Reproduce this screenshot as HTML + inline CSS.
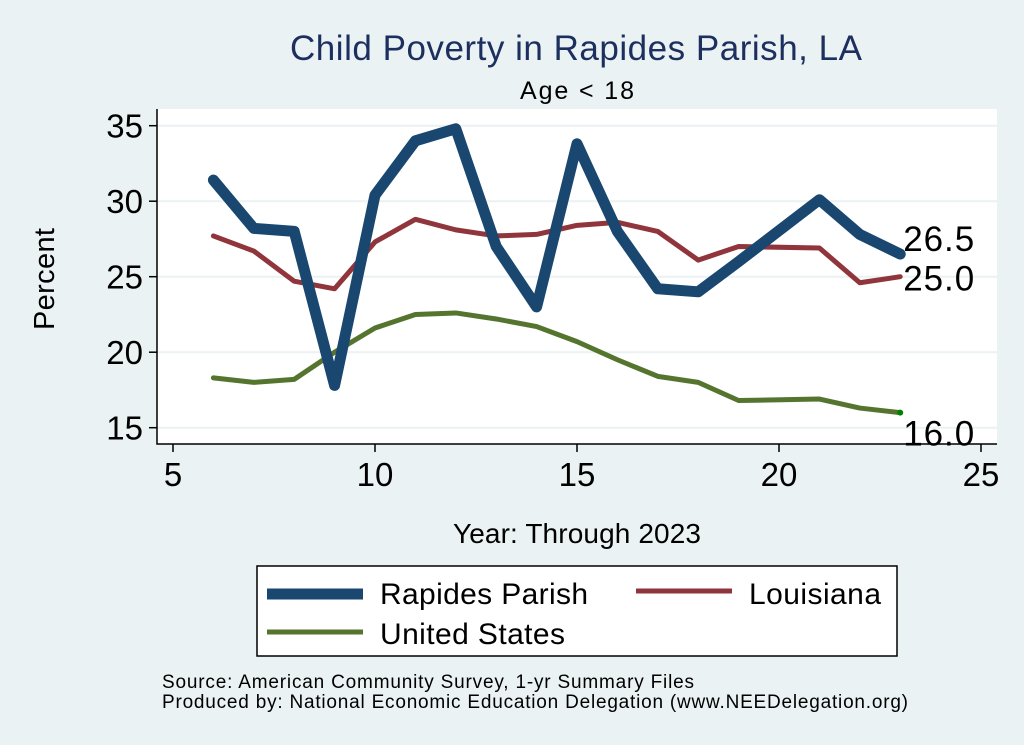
<!DOCTYPE html>
<html><head><meta charset="utf-8"><style>
body{margin:0;background:#eaf2f3;}
svg{display:block;font-family:"Liberation Sans",sans-serif;}
</style></head><body>
<svg id="chart" width="1024" height="745">
<rect x="0" y="0" width="1024" height="745" fill="#eaf2f3"/>
<rect x="157" y="109" width="840" height="335" fill="#fff"/>
<text x="576" y="60" font-size="35" fill="#1c2f5e" text-anchor="middle" textLength="572">Child Poverty in Rapides Parish, LA</text>
<text x="577" y="99" font-size="25" text-anchor="middle" textLength="114">Age &lt; 18</text>
<text transform="translate(54,279) rotate(-90)" font-size="29" text-anchor="middle" textLength="102">Percent</text>
<text x="577" y="543" font-size="28" text-anchor="middle" textLength="248">Year: Through 2023</text>
<g id="grid"></g><g id="axes"></g><g id="series"></g><g id="labels"></g>
<rect x="257" y="566" width="640" height="90" fill="#fff" stroke="#000" stroke-width="1.5"/>
<g><line x1="267" y1="594" x2="363" y2="594" stroke="#1a476f" stroke-width="11"/><text x="380" y="604" font-size="30" textLength="208">Rapides Parish</text></g>
<g><line x1="636" y1="591" x2="732" y2="591" stroke="#90353b" stroke-width="5"/><text x="749" y="604" font-size="30" textLength="132">Louisiana</text></g>
<g><line x1="267" y1="632" x2="363" y2="632" stroke="#55752f" stroke-width="5"/><text x="380" y="644" font-size="30" textLength="185">United States</text></g>
<text x="162" y="688" font-size="19" textLength="532">Source: American Community Survey, 1-yr Summary Files</text>
<text x="162" y="708" font-size="19" textLength="746">Produced by: National Economic Education Delegation (www.NEEDelegation.org)</text>
</svg>
<script>
const years=[6,7,8,9,10,11,12,13,14,15,16,17,18,19,20,21,22,23];
const rapides=[31.4,28.2,28.0,17.8,30.4,34.0,34.8,27.0,23.0,33.8,28.0,24.2,24.0,26.0,null,30.1,27.8,26.5];
const louisiana=[27.7,26.7,24.7,24.2,27.3,28.8,28.1,27.7,27.8,28.4,28.6,28.0,26.1,27.0,null,26.9,24.6,25.0];
const unitedStates=[18.3,18.0,18.2,20.0,21.6,22.5,22.6,22.2,21.7,20.7,19.5,18.4,18.0,16.8,null,16.9,16.3,16.0];
const xTicks=[5,10,15,20,25];
const yTicks=[15,20,25,30,35];
const NS="http://www.w3.org/2000/svg";
function X(v){return 173+(v-5)*40.4;}
function Y(v){return 427.7-(v-15)*15.1;}
function mk(t,a,p){const e=document.createElementNS(NS,t);for(const k in a)e.setAttribute(k,a[k]);p.appendChild(e);return e;}
const grid=document.getElementById('grid'),axes=document.getElementById('axes'),ser=document.getElementById('series'),lab=document.getElementById('labels');
yTicks.forEach(v=>{
 const g=mk('line',{x1:157,x2:997,y1:Y(v),y2:Y(v),stroke:'#eaf2f3','stroke-width':2},grid);
 
 
 const t=mk('line',{x1:149,x2:157,y1:Y(v),y2:Y(v),stroke:'#000','stroke-width':1.5},axes);
 
 
 const l=mk('text',{x:143,y:Y(v)+12,'font-size':33,'text-anchor':'end'},axes);l.textContent=v;
 
 
});
xTicks.forEach(v=>{
 const t=mk('line',{x1:X(v),x2:X(v),y1:444,y2:452,stroke:'#000','stroke-width':1.5},axes);
 
 
 const l=mk('text',{x:X(v),y:486,'font-size':33,'text-anchor':'middle'},axes);l.textContent=v;
 
 
});
const ax=mk('path',{d:'M157,109 V444 H997',fill:'none',stroke:'#000','stroke-width':1.5},axes);


function draw(vals,color,w,name){
 let d='';vals.forEach((v,i)=>{if(v===null)return;d+=(d?'L':'M')+X(years[i])+','+Y(v);});
 const p=mk('path',{d:d,fill:'none',stroke:color,'stroke-width':w,'stroke-linejoin':'round','stroke-linecap':'round'},ser);
 
 
}
draw(unitedStates,'#55752f',5,'line-united-states');
draw(louisiana,'#90353b',5,'line-louisiana');
draw(rapides,'#1a476f',11,'line-rapides-parish');
const dot=mk('circle',{cx:X(23),cy:Y(unitedStates[17]),r:3,fill:'#008000'},ser);


[[rapides[17],-3,'label-rapides-end'],[louisiana[17],14,'label-louisiana-end'],[unitedStates[17],33,'label-us-end']].forEach(a=>{
 const t=mk('text',{x:X(23)+3,y:Y(a[0])+a[1],'font-size':35,'textLength':71},lab);t.textContent=a[0].toFixed(1);
 
 
});
</script>
</body></html>
